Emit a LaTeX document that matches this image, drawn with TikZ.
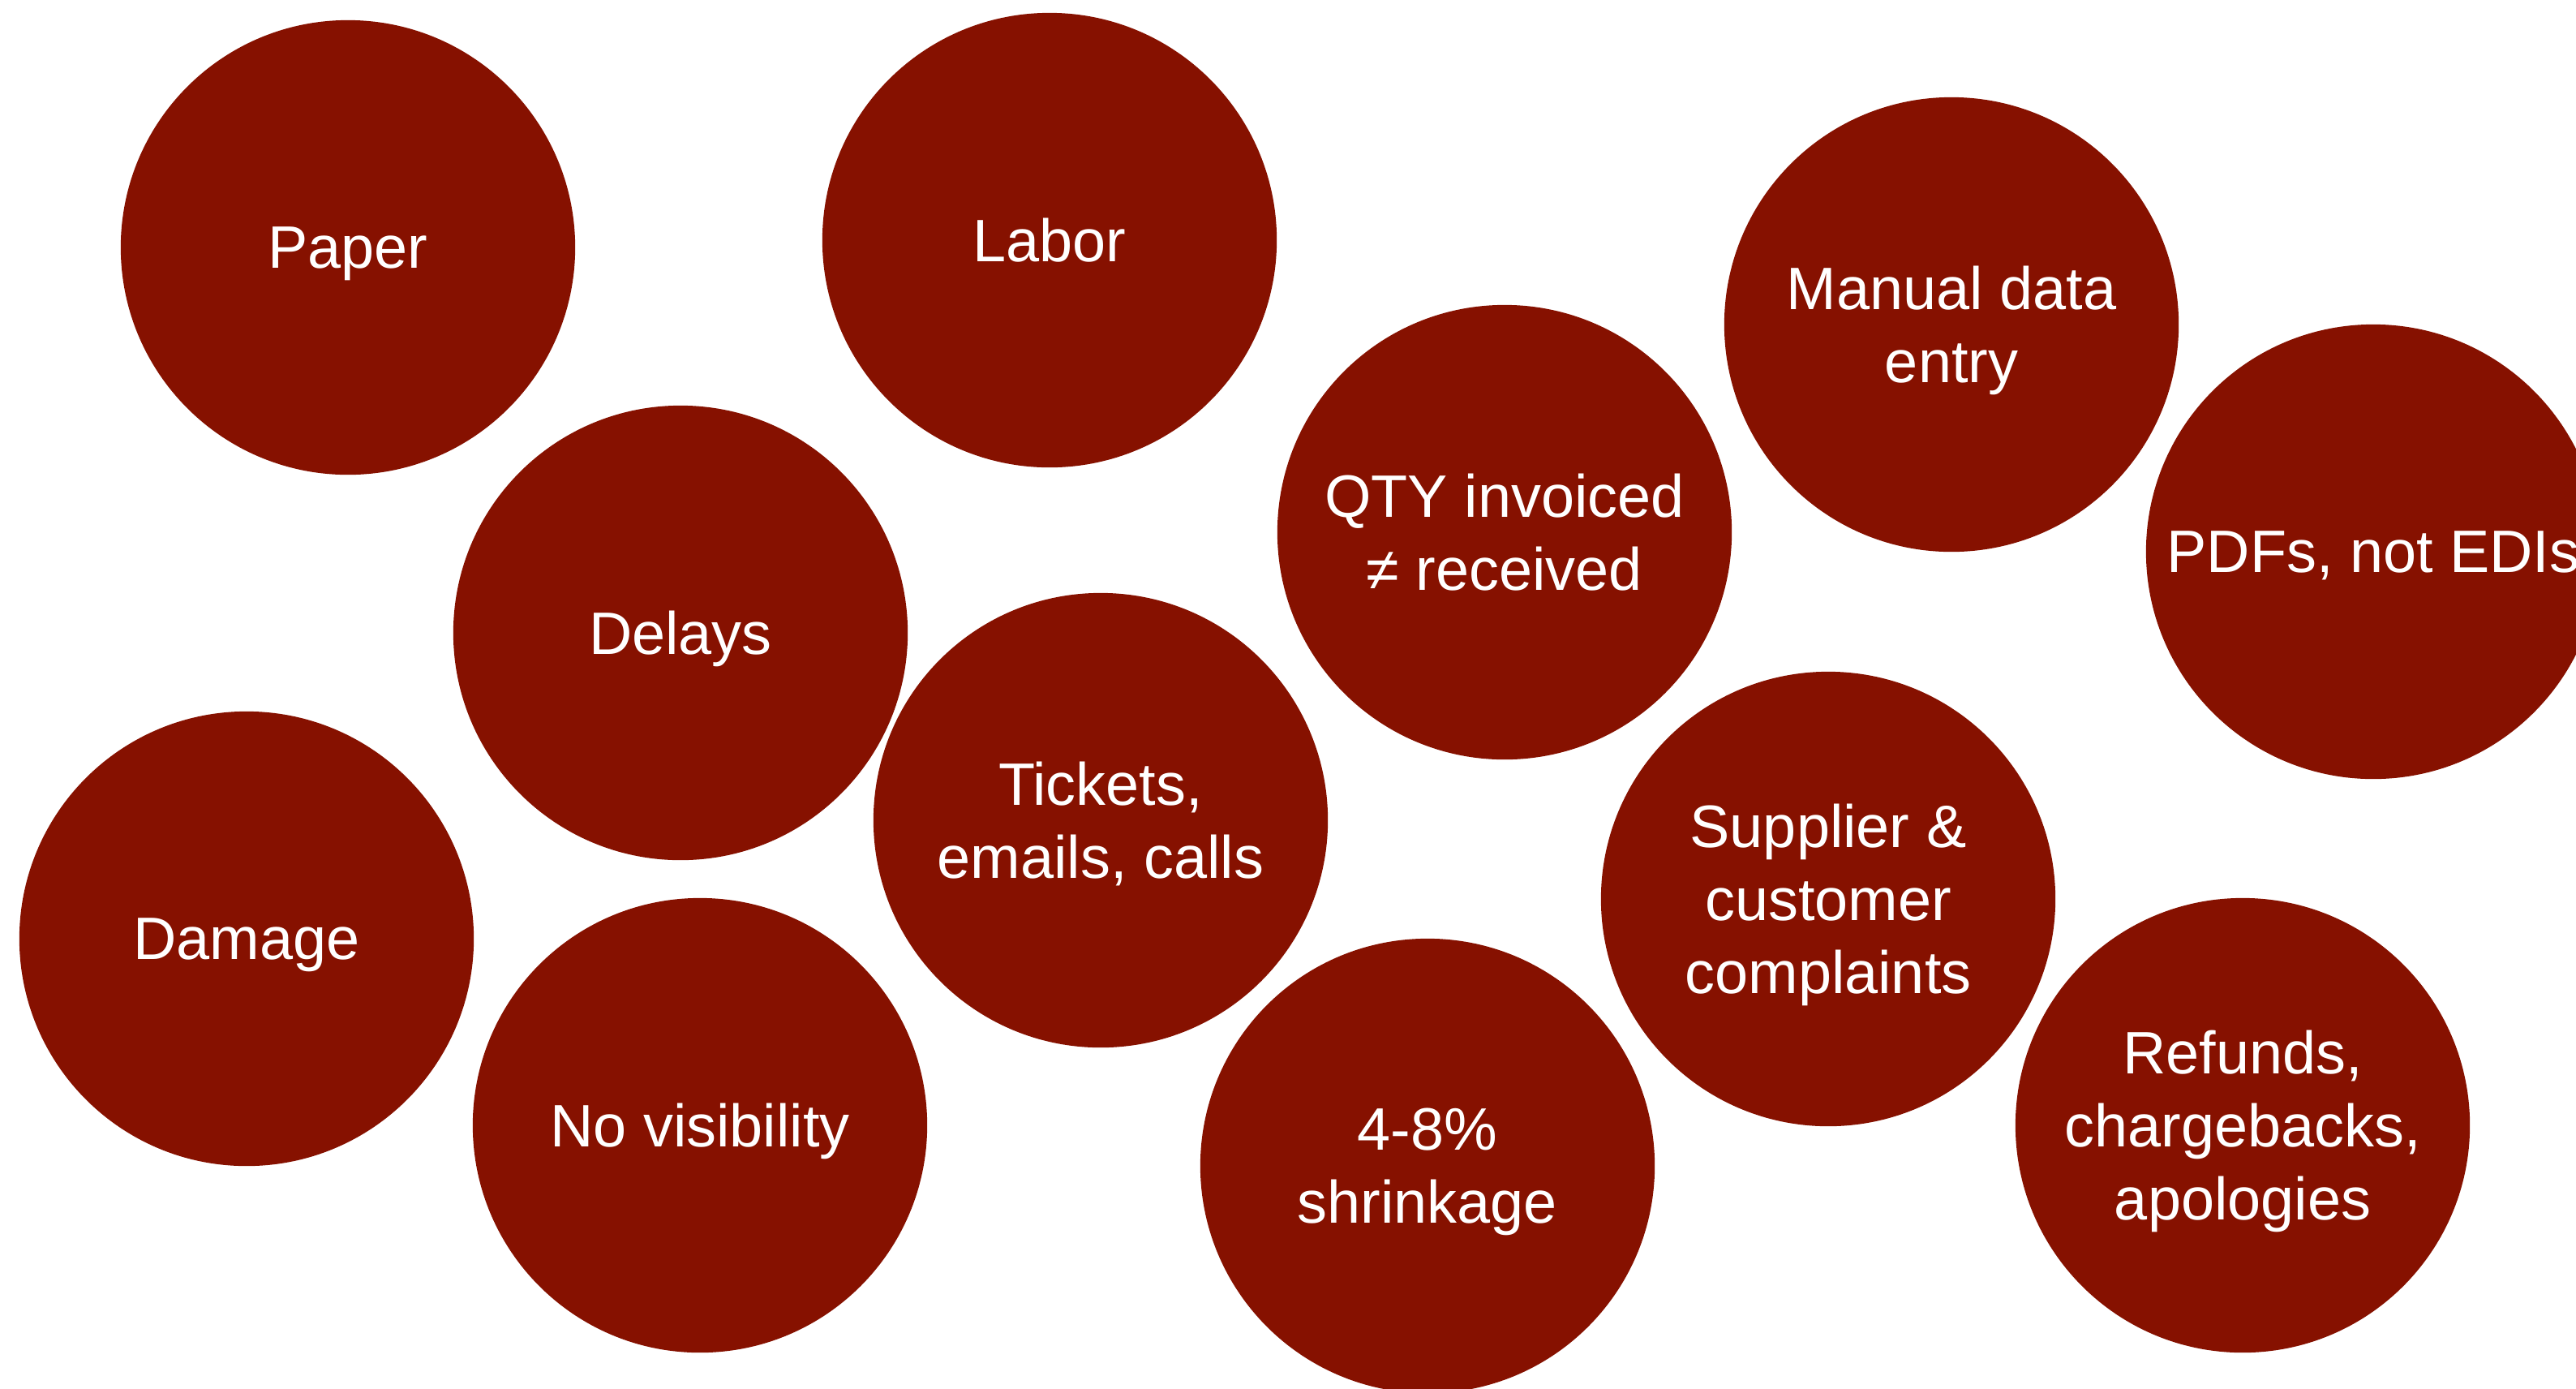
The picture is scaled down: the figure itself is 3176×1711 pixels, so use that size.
\documentclass[tikz,border=0pt]{standalone}
\usepackage{fontspec}
\setmainfont{Liberation Sans}
\definecolor{brick}{HTML}{861100}
\begin{document}
\begin{tikzpicture}[x=0.01cm, y=-0.01cm,
    every node/.style = {shape=circle, fill=brick, text=white,
    minimum size=5.6cm, inner sep=0pt, align=center, text depth=0pt,
    font=\fontsize{21}{25.6}\selectfont}]
    \useasboundingbox (0,0) rectangle (3176,1711);
    \clip (0,0) rectangle (3176,1711);
    \node (paper)    at (429,305)   {Paper};
    \node (labor)    at (1294,296)  {Labor};
    \node (manual)   at (2406,400)  {Manual data\\entry};
    \node (pdfs)     at (2926,680)  {PDFs, not EDIs};
    \node (qty)      at (1855,656)  {QTY invoiced\\≠ received};
    \node (delays)   at (839,780)   {Delays};
    \node (tickets)  at (1357,1011) {Tickets,\\emails, calls};
    \node (damage)   at (304,1157)  {Damage};
    \node (novis)    at (863,1387)  {No visibility};
    \node (shrink)   at (1760,1437) {4-8\%\\shrinkage};
    \node (supplier) at (2254,1108) {Supplier \&\\customer\\complaints};
    \node (refunds)  at (2765,1387) {Refunds,\\chargebacks,\\apologies};
\end{tikzpicture}
\end{document}
